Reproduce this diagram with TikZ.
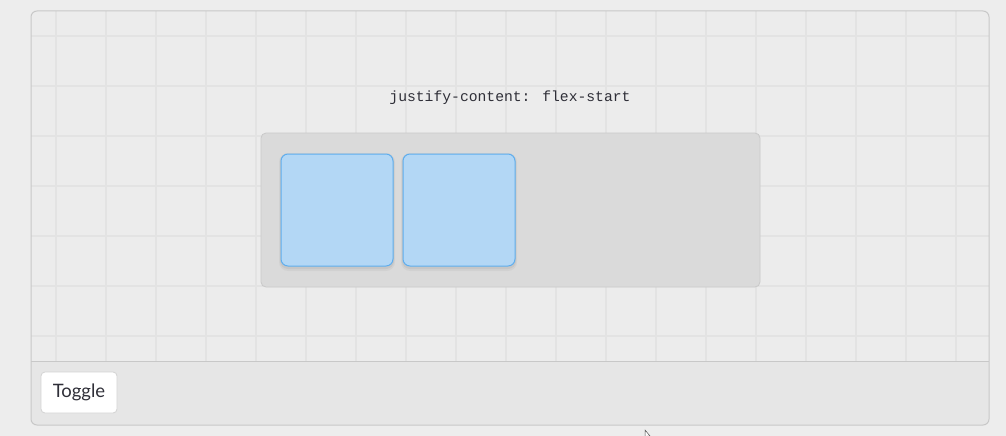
\documentclass[tikz,border=0pt]{standalone}
\usepackage{fontspec}
\newfontfamily\uifont{Lato}
\newfontfamily\codefont{Liberation Mono}
\definecolor{pagebg}{HTML}{EDEDED}
\definecolor{framebg}{HTML}{ECECEC}
\definecolor{gridcol}{HTML}{E3E3E3}
\definecolor{framedge}{HTML}{C8C8C8}
\definecolor{barbg}{HTML}{E6E6E6}
\definecolor{contbg}{HTML}{DADADA}
\definecolor{contedge}{HTML}{C9C9C9}
\definecolor{itembg}{HTML}{B3D7F5}
\definecolor{itemedge}{HTML}{5FAEEE}
\definecolor{textcol}{HTML}{2F2F38}
\tikzset{
  itembox/.style={draw=itemedge, line width=1pt, fill=itembg, rounded corners=7pt},
  btnbox/.style={draw=framedge!80, line width=0.8pt, fill=white, rounded corners=4pt},
}
\begin{document}
\begin{tikzpicture}[x=1pt,y=-1pt]
\fill[pagebg] (0,0) rectangle (1006,436);
\useasboundingbox (0,0) rectangle (1006,436);
% frame
\fill[framebg, rounded corners=6pt] (31,11) rectangle (989,425);
\begin{scope}
\clip (31,11) rectangle (989,361);
\foreach \x in {56,106,...,956} \draw[gridcol, line width=2pt] (\x,11) -- (\x,361);
\foreach \y in {36,86,...,336} \draw[gridcol, line width=2pt] (31,\y) -- (989,\y);
\end{scope}
% bottom bar
\begin{scope}
\clip[rounded corners=6pt] (31,11) rectangle (989,425);
\fill[barbg] (31,361) rectangle (989,425);
\end{scope}
\draw[framedge, line width=0.8pt] (31,361) -- (989,361);
\draw[framedge, line width=1pt, rounded corners=6pt] (31,11) rectangle (989,425);
% label
\node[text=textcol, font=\codefont\fontsize{14.7}{16}\selectfont, anchor=center] (lbl) at (510,98) {justify-content: flex-start};
% container
\node[draw=contedge, line width=0.8pt, fill=contbg, rounded corners=5pt, minimum width=499pt, minimum height=154pt, inner sep=0pt] (cont) at (510.5,210) {};
% shadows
\foreach \cx in {337,459}{
  \fill[black, opacity=0.04, rounded corners=9pt] (\cx-58,154-1) rectangle (\cx+58,266+5);
  \fill[black, opacity=0.05, rounded corners=8pt] (\cx-57,154) rectangle (\cx+57,266+3);
}
\node[itembox, minimum width=112pt, minimum height=112pt, inner sep=0pt] (itemA) at (337,210) {};
\node[itembox, minimum width=112pt, minimum height=112pt, inner sep=0pt] (itemB) at (459,210) {};
% toggle button
\node[btnbox, minimum width=76pt, minimum height=41pt, inner sep=0pt, text=textcol, font=\uifont\fontsize{18.5}{20}\selectfont] (toggle) at (79,392.5) {Toggle};
% mouse cursor
\draw[black!70, fill=white, line width=0.5pt] (645,430) -- (645,438) -- (647,436) -- (650,436) -- cycle;
\end{tikzpicture}
\end{document}
